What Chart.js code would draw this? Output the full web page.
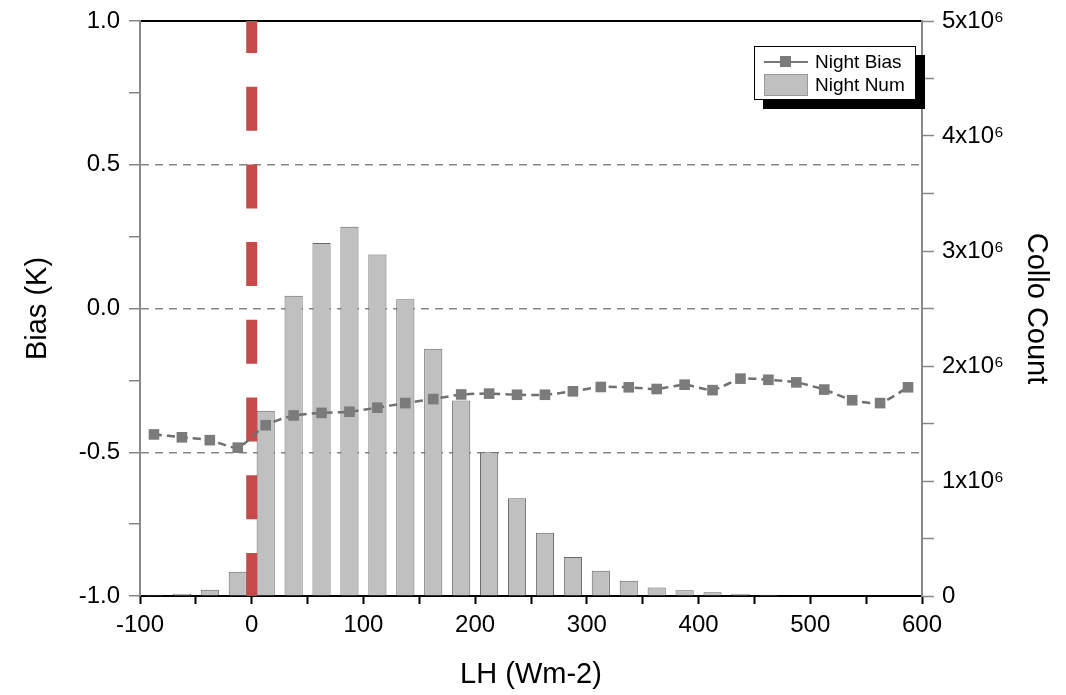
<!DOCTYPE html>
<html>
<head>
<meta charset="utf-8">
<script src="https://cdn.jsdelivr.net/npm/chart.js@4.4.1/dist/chart.umd.min.js"></script>
<style>
  body { margin: 0; background: #fff; }
  #wrap { position: relative; width: 1066px; height: 695px; }
  #legend {
    position: absolute; left: 754px; top: 46px; width: 160px; height: 52px;
    background: #fff; border: 1px solid #000; box-shadow: 9px 9px 0 #000;
    font-family: "Liberation Sans", Arial, sans-serif; font-size: 19px; color: #000;
  }
  .row { position: absolute; left: 0; height: 24px; display: flex; align-items: center; }
  .icon { position: relative; width: 44px; height: 22px; margin-left: 9px; margin-right: 7px; }
  .icon .ln { position: absolute; left: 0; right: 0; top: 10px; height: 2px; background: #777; }
  .icon .sq { position: absolute; left: 16px; top: 5px; width: 11px; height: 11px; background: #7b7b7b; }
  .icon .bx { position: absolute; left: 0; top: 0; width: 42px; height: 20px; background: #c0c0c0; border: 1px solid #999; }
</style>
</head>
<body>
<div id="wrap">
  <canvas id="chart" width="1066" height="695"></canvas>
  <div id="legend"></div>
</div>
<script>
// 分箱中心 (LH, Wm-2)
const binCenters = [-87.5, -62.5, -37.5, -12.5, 12.5, 37.5, 62.5, 87.5, 112.5, 137.5,
  162.5, 187.5, 212.5, 237.5, 262.5, 287.5, 312.5, 337.5, 362.5, 387.5,
  412.5, 437.5, 462.5, 487.5, 512.5, 537.5, 562.5, 587.5];

// 夜间匹配数 (Collo Count)
const nightNum = [0.01e6, 0.02e6, 0.055e6, 0.21e6, 1.61e6, 2.61e6, 3.07e6, 3.21e6, 2.97e6, 2.58e6,
  2.15e6, 1.70e6, 1.25e6, 0.85e6, 0.55e6, 0.34e6, 0.22e6, 0.133e6, 0.075e6, 0.05e6,
  0.032e6, 0.02e6, 0.011e6, 0.006e6, 0, 0, 0, 0];

// 夜间偏差 (K)
const nightBias = [-0.438, -0.448, -0.458, -0.484, -0.406, -0.372, -0.363, -0.359, -0.345, -0.329,
  -0.315, -0.299, -0.296, -0.300, -0.300, -0.288, -0.273, -0.274, -0.280, -0.265,
  -0.284, -0.244, -0.248, -0.257, -0.282, -0.319, -0.329, -0.274];

const leftTicks = [-1.0, -0.5, 0.0, 0.5, 1.0];
const dashedLevels = [-0.5, 0.0, 0.5];
const zeroLine = [{ x: 0, y: 1 }, { x: 0, y: -1 }];

const FONT = '"Liberation Sans", Arial, sans-serif';

const ctx = document.getElementById('chart').getContext('2d');
const chart = new Chart(ctx, {
  type: 'line',
  data: {
    datasets: [
      {
        type: 'line',
        label: 'Night Bias',
        data: binCenters.map((x, i) => ({ x: x, y: nightBias[i] })),
        yAxisID: 'y',
        borderColor: '#707070',
        borderWidth: 2.5,
        borderDash: [8, 5],
        tension: 0.2,
        pointStyle: 'rect',
        pointRadius: 7.5,
        pointBackgroundColor: '#7b7b7b',
        pointBorderColor: '#7b7b7b',
        pointBorderWidth: 0,
        order: 0
      },
      {
        type: 'line',
        label: 'zero',
        data: zeroLine,
        yAxisID: 'y',
        borderColor: '#c64a4a',
        borderWidth: 11,
        borderDash: [44, 33.7],
        borderDashOffset: 12,
        pointRadius: 0,
        order: 1
      },
      {
        type: 'bar',
        label: 'Night Num',
        data: binCenters.map((x, i) => ({ x: x, y: nightNum[i] })),
        yAxisID: 'y1',
        backgroundColor: '#c0c0c0',
        borderColor: '#666',
        borderWidth: 1,
        barPercentage: 0.65,
        categoryPercentage: 1,
        order: 2
      }
    ]
  },
  options: {
    responsive: false,
    animation: false,
    layout: { padding: 0 },
    plugins: {
      legend: { display: false },
      tooltip: { enabled: false }
    },
    scales: {
      x: {
        type: 'linear',
        position: 'bottom',
        min: -100,
        max: 600,
        offset: false,
        afterFit: s => { s.height = 99; },
        ticks: {
          stepSize: 50,
          padding: 7,
          color: '#000',
          font: { family: FONT, size: 24 },
          maxRotation: 0,
          autoSkip: false,
          callback: v => (v % 100 === 0 ? String(v) : '')
        },
        grid: { drawOnChartArea: false, offset: false, tickLength: 8, tickWidth: 2, tickColor: '#000' },
        border: { color: '#000', width: 2 },
        title: { display: true, text: 'LH (Wm-2)', color: '#000', font: { family: FONT, size: 29 }, padding: { top: 0, bottom: 3 } }
      },
      x2: {
        type: 'linear',
        position: 'top',
        min: -100,
        max: 600,
        offset: false,
        afterFit: s => { s.height = 20; },
        ticks: { display: false, stepSize: 50 },
        grid: { drawOnChartArea: false, drawTicks: false },
        border: { color: '#000', width: 2 }
      },
      y: {
        type: 'linear',
        position: 'left',
        min: -1,
        max: 1,
        z: 1,
        afterFit: s => { s.width = 140; },
        ticks: {
          stepSize: 0.25,
          padding: 9,
          color: '#000',
          font: { family: FONT, size: 24, lineHeight: 1 },
          autoSkip: false,
          callback: v => (leftTicks.some(t => Math.abs(t - v) < 1e-9) ? v.toFixed(1) : '')
        },
        grid: {
          color: c => (dashedLevels.some(t => Math.abs(t - c.tick.value) < 1e-9) ? '#888' : 'transparent'),
          lineWidth: 1.5,
          tickLength: 11,
          tickColor: '#888',
          tickWidth: 1.5,
          tickBorderDash: []
        },
        border: { color: '#888', width: 2, dash: [8, 6] },
        title: { display: true, text: 'Bias (K)', color: '#000', font: { family: FONT, size: 29 }, padding: { top: 21, bottom: 0 } }
      },
      y1: {
        type: 'linear',
        position: 'right',
        min: 0,
        max: 5e6,
        afterFit: s => { s.width = 144; },
        ticks: {
          stepSize: 5e5,
          padding: 8,
          color: '#000',
          font: { family: FONT, size: 24, lineHeight: 1 },
          autoSkip: false,
          callback: v => {
            if (v % 1e6 !== 0) return '';
            return v === 0 ? '0' : (v / 1e6) + 'x10\u2076';
          }
        },
        grid: { drawOnChartArea: false, tickLength: 12, tickColor: '#888', tickWidth: 1.5 },
        border: { color: '#888', width: 2 },
        title: { display: true, text: 'Collo Count', color: '#000', font: { family: FONT, size: 29 }, padding: { top: 13, bottom: 0 } }
      }
    }
  }
});

// HTML 图例
const legendEl = document.getElementById('legend');
legendEl.innerHTML =
  '<div class="row" style="top:3px"><div class="icon"><div class="ln"></div><div class="sq"></div></div><span>' +
  chart.data.datasets[0].label + '</span></div>' +
  '<div class="row" style="top:26px"><div class="icon"><div class="bx"></div></div><span>' +
  chart.data.datasets[2].label + '</span></div>';
</script>
</body>
</html>
